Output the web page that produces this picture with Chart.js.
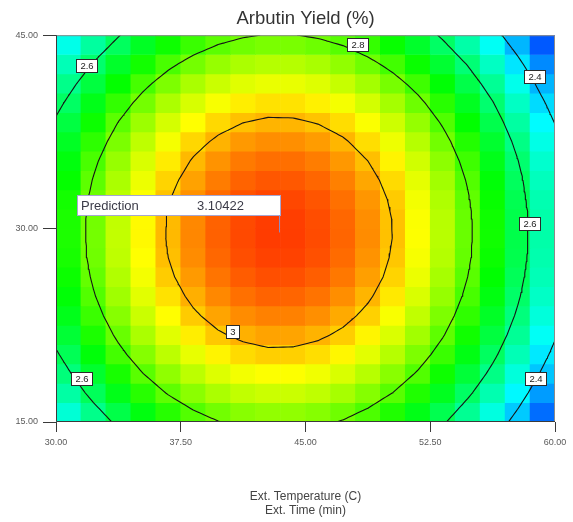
<!DOCTYPE html>
<html><head><meta charset="utf-8">
<script src="https://cdn.jsdelivr.net/npm/chart.js@4.4.1/dist/chart.umd.min.js"></script>
<style>html,body{margin:0;padding:0;background:#fff}#wrap{width:573px;height:522px;position:relative}</style>
</head><body><div id="wrap"><canvas id="c"></canvas></div>
<script>
const chartTitle = 'Arbutin Yield (%)';
const xAxisTitle = ['Ext. Temperature (C)', 'Ext. Time (min)'];
const temperatureCells = [30.75, 32.25, 33.75, 35.25, 36.75, 38.25, 39.75, 41.25, 42.75, 44.25, 45.75, 47.25, 48.75, 50.25, 51.75, 53.25, 54.75, 56.25, 57.75, 59.25];
const timeCells = [44.25, 42.75, 41.25, 39.75, 38.25, 36.75, 35.25, 33.75, 32.25, 30.75, 29.25, 27.75, 26.25, 24.75, 23.25, 21.75, 20.25, 18.75, 17.25, 15.75];
const yieldGrid = [
  [2.473, 2.552, 2.622, 2.682, 2.732, 2.771, 2.801, 2.820, 2.830, 2.829, 2.818, 2.798, 2.767, 2.726, 2.675, 2.614, 2.542, 2.461, 2.370, 2.268],
  [2.526, 2.606, 2.676, 2.736, 2.785, 2.825, 2.855, 2.874, 2.883, 2.883, 2.872, 2.851, 2.820, 2.779, 2.728, 2.667, 2.596, 2.514, 2.423, 2.322],
  [2.574, 2.653, 2.723, 2.783, 2.833, 2.873, 2.902, 2.922, 2.931, 2.930, 2.920, 2.899, 2.868, 2.827, 2.776, 2.715, 2.643, 2.562, 2.471, 2.369],
  [2.615, 2.695, 2.765, 2.825, 2.875, 2.914, 2.944, 2.963, 2.973, 2.972, 2.961, 2.941, 2.910, 2.869, 2.818, 2.756, 2.685, 2.604, 2.512, 2.411],
  [2.651, 2.731, 2.801, 2.861, 2.911, 2.950, 2.980, 2.999, 3.009, 3.008, 2.997, 2.977, 2.946, 2.905, 2.854, 2.792, 2.721, 2.640, 2.548, 2.447],
  [2.682, 2.761, 2.831, 2.891, 2.941, 2.981, 3.010, 3.030, 3.039, 3.038, 3.028, 3.007, 2.976, 2.935, 2.884, 2.823, 2.751, 2.670, 2.579, 2.477],
  [2.706, 2.786, 2.856, 2.916, 2.965, 3.005, 3.035, 3.054, 3.063, 3.063, 3.052, 3.031, 3.000, 2.959, 2.908, 2.847, 2.776, 2.694, 2.603, 2.502],
  [2.724, 2.804, 2.874, 2.934, 2.984, 3.023, 3.053, 3.072, 3.082, 3.081, 3.070, 3.050, 3.019, 2.978, 2.927, 2.866, 2.794, 2.713, 2.622, 2.520],
  [2.737, 2.817, 2.887, 2.947, 2.997, 3.036, 3.066, 3.085, 3.095, 3.094, 3.083, 3.062, 3.032, 2.991, 2.939, 2.878, 2.807, 2.726, 2.634, 2.533],
  [2.744, 2.824, 2.894, 2.954, 3.004, 3.043, 3.073, 3.092, 3.102, 3.101, 3.090, 3.069, 3.039, 2.998, 2.946, 2.885, 2.814, 2.733, 2.641, 2.540],
  [2.745, 2.825, 2.895, 2.955, 3.005, 3.044, 3.074, 3.093, 3.103, 3.102, 3.091, 3.071, 3.040, 2.999, 2.948, 2.886, 2.815, 2.734, 2.642, 2.541],
  [2.741, 2.821, 2.891, 2.950, 3.000, 3.040, 3.069, 3.089, 3.098, 3.098, 3.087, 3.066, 3.035, 2.994, 2.943, 2.882, 2.811, 2.729, 2.638, 2.536],
  [2.730, 2.810, 2.880, 2.940, 2.990, 3.029, 3.059, 3.078, 3.088, 3.087, 3.076, 3.056, 3.025, 2.984, 2.933, 2.871, 2.800, 2.719, 2.627, 2.526],
  [2.714, 2.794, 2.864, 2.924, 2.973, 3.013, 3.043, 3.062, 3.072, 3.071, 3.060, 3.039, 3.008, 2.967, 2.916, 2.855, 2.784, 2.703, 2.611, 2.510],
  [2.692, 2.772, 2.842, 2.902, 2.951, 2.991, 3.021, 3.040, 3.049, 3.049, 3.038, 3.017, 2.986, 2.945, 2.894, 2.833, 2.762, 2.680, 2.589, 2.488],
  [2.664, 2.744, 2.814, 2.874, 2.923, 2.963, 2.993, 3.012, 3.022, 3.021, 3.010, 2.989, 2.958, 2.917, 2.866, 2.805, 2.734, 2.653, 2.561, 2.460],
  [2.630, 2.710, 2.780, 2.840, 2.890, 2.929, 2.959, 2.978, 2.988, 2.987, 2.976, 2.956, 2.925, 2.884, 2.833, 2.771, 2.700, 2.619, 2.527, 2.426],
  [2.591, 2.671, 2.741, 2.800, 2.850, 2.890, 2.919, 2.939, 2.948, 2.948, 2.937, 2.916, 2.885, 2.844, 2.793, 2.732, 2.661, 2.579, 2.488, 2.387],
  [2.546, 2.626, 2.695, 2.755, 2.805, 2.845, 2.874, 2.894, 2.903, 2.902, 2.892, 2.871, 2.840, 2.799, 2.748, 2.687, 2.615, 2.534, 2.443, 2.341],
  [2.495, 2.574, 2.644, 2.704, 2.754, 2.794, 2.823, 2.843, 2.852, 2.851, 2.841, 2.820, 2.789, 2.748, 2.697, 2.636, 2.564, 2.483, 2.392, 2.290]
];
const temperatureTicks = [30, 37.5, 45, 52.5, 60];
const timeTicks = [15, 30, 45];
const contourLevels = [2.4, 2.6, 2.8, 3.0];
const labelTexts = ['2.6', '2.8', '2.4', '2.6', '3', '2.6', '2.4'];
const labelTemps = [31.83, 48.13, 58.74, 58.47, 40.61, 31.56, 58.80];
const labelTimes = [42.64, 44.30, 41.82, 30.43, 22.05, 18.41, 18.41];
const predictionTemp = 43.4;
const predictionTime = 29.7;
const predictionText = '3.10422';
const colorStopValues = [2.17, 2.45, 2.72, 2.95, 3.15];
const colorStopColors = [[0, 0, 255], [0, 255, 255], [0, 255, 0], [255, 255, 0], [255, 0, 0]];

const FONT = '"Liberation Sans", Arial, Helvetica, sans-serif';
Chart.defaults.font.family = FONT;

function colorFor(v) {
  const s = colorStopValues, c = colorStopColors;
  const rgb = a => `rgb(${Math.round(a[0])},${Math.round(a[1])},${Math.round(a[2])})`;
  if (v <= s[0]) return rgb(c[0]);
  if (v >= s[s.length - 1]) return rgb(c[c.length - 1]);
  for (let k = 0; k < s.length - 1; k++) {
    if (v <= s[k + 1]) {
      const t = (v - s[k]) / (s[k + 1] - s[k]);
      return rgb([0, 1, 2].map(q => c[k][q] + t * (c[k + 1][q] - c[k][q])));
    }
  }
}

// ---- contour lines derived from the grid (marching squares) ----
const xMin = temperatureTicks[0], xMax = temperatureTicks[temperatureTicks.length - 1];
const yMin = timeTicks[0], yMax = timeTicks[timeTicks.length - 1];

function buildNodes() {
  const order = timeCells.map((t, r) => r).sort((a, b) => timeCells[a] - timeCells[b]);
  const ysIn = order.map(r => timeCells[r]);
  const inner = order.map(r => yieldGrid[r]);
  const ext = (v0, v1, p0, p1, pe) => v0 + (v0 - v1) * (pe - p0) / (p0 - p1);
  const xsIn = temperatureCells, n = xsIn.length;
  const padRow = row => [ext(row[0], row[1], xsIn[0], xsIn[1], xMin), ...row,
    ext(row[n - 1], row[n - 2], xsIn[n - 1], xsIn[n - 2], xMax)];
  const rows = inner.map(padRow);
  const m = rows.length;
  const bottom = rows[0].map((v, c) => ext(v, rows[1][c], ysIn[0], ysIn[1], yMin));
  const top = rows[m - 1].map((v, c) => ext(v, rows[m - 2][c], ysIn[m - 1], ysIn[m - 2], yMax));
  return { xs: [xMin, ...xsIn, xMax], ys: [yMin, ...ysIn, yMax], F: [bottom, ...rows, top] };
}

function refine(nodes, S) {
  const fx = [], fy = [];
  const sub = arr => { const out = []; for (let k = 0; k < arr.length - 1; k++) for (let s = 0; s < S; s++) out.push([k, s / S]); out.push([arr.length - 2, 1]); return out; };
  const sx = sub(nodes.xs), sy = sub(nodes.ys);
  sx.forEach(([k, t]) => fx.push(nodes.xs[k] + t * (nodes.xs[k + 1] - nodes.xs[k])));
  sy.forEach(([k, t]) => fy.push(nodes.ys[k] + t * (nodes.ys[k + 1] - nodes.ys[k])));
  const F = sy.map(([r, u]) => sx.map(([c, t]) => {
    const a = nodes.F[r][c], b = nodes.F[r][c + 1], d = nodes.F[r + 1][c], e = nodes.F[r + 1][c + 1];
    return (a * (1 - t) + b * t) * (1 - u) + (d * (1 - t) + e * t) * u;
  }));
  return { fx, fy, F };
}

function march(g, level) {
  const segs = [];
  const { fx, fy, F } = g;
  for (let r = 0; r < fy.length - 1; r++) for (let c = 0; c < fx.length - 1; c++) {
    const v00 = F[r][c], v10 = F[r][c + 1], v01 = F[r + 1][c], v11 = F[r + 1][c + 1];
    const pts = [];
    const edge = (xa, ya, va, xb, yb, vb) => {
      if ((va < level) !== (vb < level)) { const t = (level - va) / (vb - va); pts.push({ x: xa + t * (xb - xa), y: ya + t * (yb - ya) }); }
    };
    edge(fx[c], fy[r], v00, fx[c + 1], fy[r], v10);
    edge(fx[c + 1], fy[r], v10, fx[c + 1], fy[r + 1], v11);
    edge(fx[c], fy[r + 1], v01, fx[c + 1], fy[r + 1], v11);
    edge(fx[c], fy[r], v00, fx[c], fy[r + 1], v01);
    if (pts.length === 2) segs.push([pts[0], pts[1]]);
    else if (pts.length === 4) { segs.push([pts[0], pts[1]]); segs.push([pts[2], pts[3]]); }
  }
  return segs;
}

function chain(segs) {
  const key = p => p.x.toFixed(9) + ',' + p.y.toFixed(9);
  const map = new Map();
  segs.forEach((s, i) => s.forEach(p => { const k = key(p); if (!map.has(k)) map.set(k, []); map.get(k).push(i); }));
  const used = new Array(segs.length).fill(false);
  const lines = [];
  for (let i = 0; i < segs.length; i++) {
    if (used[i]) continue;
    used[i] = true;
    const line = [segs[i][0], segs[i][1]];
    for (const atEnd of [true, false]) {
      for (;;) {
        const tip = atEnd ? line[line.length - 1] : line[0];
        const j = (map.get(key(tip)) || []).find(q => !used[q]);
        if (j === undefined) break;
        used[j] = true;
        const s = segs[j];
        const nxt = key(s[0]) === key(tip) ? s[1] : s[0];
        if (atEnd) line.push(nxt); else line.unshift(nxt);
      }
    }
    lines.push(line);
  }
  return lines;
}

const fine = refine(buildNodes(), 5);
const contourDatasets = contourLevels.map(level => {
  const data = [];
  chain(march(fine, level)).forEach(line => { data.push(...line); data.push({ x: null, y: null }); });
  return {
    type: 'line', label: 'Yield ' + level, xAxisID: 'xl', yAxisID: 'y', data,
    borderColor: '#151515', borderWidth: 1.1, pointRadius: 0, spanGaps: false,
    tension: 0, fill: false, order: 0, borderCapStyle: 'round', borderJoinStyle: 'round'
  };
});

const halfCell = Math.abs(timeCells[0] - timeCells[1]) / 2;
const cellDatasets = timeCells.map((t, r) => ({
  type: 'bar', label: 'Time ' + t, xAxisID: 'x', yAxisID: 'y',
  data: temperatureCells.map(() => [t - halfCell, t + halfCell]),
  backgroundColor: yieldGrid[r].map(colorFor),
  borderWidth: 0, grouped: false, barPercentage: 1, categoryPercentage: 1, order: 2
}));

const overlay = {
  id: 'overlay',
  afterDatasetsDraw(chart) {
    const { ctx, chartArea: a } = chart;
    const xs = chart.scales.xl, ys = chart.scales.y;
    ctx.save();
    // frame
    ctx.lineWidth = 1;
    ctx.strokeStyle = '#8a8a8a';
    ctx.beginPath(); ctx.moveTo(a.left, a.top + 0.5); ctx.lineTo(a.right - 0.5, a.top + 0.5); ctx.lineTo(a.right - 0.5, a.bottom); ctx.stroke();
    ctx.strokeStyle = '#3a3a3a';
    ctx.beginPath(); ctx.moveTo(a.left + 0.5, a.top); ctx.lineTo(a.left + 0.5, a.bottom - 0.5); ctx.lineTo(a.right, a.bottom - 0.5); ctx.stroke();
    // contour labels
    ctx.font = '9.5px ' + FONT;
    ctx.textAlign = 'center'; ctx.textBaseline = 'middle';
    labelTexts.forEach((t, k) => {
      const px = xs.getPixelForValue(labelTemps[k]), py = ys.getPixelForValue(labelTimes[k]);
      const w = Math.round(ctx.measureText(t).width + 8), h = 13;
      const x0 = Math.round(px - w / 2) + 0.5, y0 = Math.round(py - h / 2) + 0.5;
      ctx.fillStyle = '#ffffff'; ctx.fillRect(x0, y0, w, h);
      ctx.strokeStyle = '#2a2a2a'; ctx.strokeRect(x0, y0, w, h);
      ctx.fillStyle = '#222'; ctx.fillText(t, x0 + w / 2, y0 + h / 2 + 0.5);
    });
    // prediction flag
    const px = xs.getPixelForValue(predictionTemp), py = ys.getPixelForValue(predictionTime);
    const bw = 203, bh = 20;
    const bx = Math.round(px - bw + 1) + 0.5, by = Math.round(py - 37) + 0.5;
    ctx.fillStyle = '#ffffff'; ctx.fillRect(bx, by, bw, bh);
    ctx.strokeStyle = '#a6a6d2'; ctx.strokeRect(bx, by, bw, bh);
    ctx.strokeStyle = '#8b8bc4';
    ctx.beginPath(); ctx.moveTo(Math.round(px) + 0.5, by + bh); ctx.lineTo(Math.round(px) + 0.5, py); ctx.stroke();
    ctx.fillStyle = '#3b3b48'; ctx.font = '13px ' + FONT; ctx.textAlign = 'left';
    ctx.fillText('Prediction', bx + 3.5, by + bh / 2 + 0.5);
    ctx.fillText(predictionText, bx + 119.5, by + bh / 2 + 0.5);
    ctx.restore();
  }
};

new Chart(document.getElementById('c'), {
  type: 'bar',
  data: { labels: temperatureCells.map(v => v.toFixed(2)), datasets: [...cellDatasets, ...contourDatasets] },
  options: {
    responsive: true, maintainAspectRatio: false, animation: false, events: [],
    layout: { padding: { left: 0, right: 18, top: 0, bottom: 0 } },
    plugins: {
      legend: { display: false }, tooltip: { enabled: false },
      title: { display: true, text: chartTitle, fullSize: false, color: '#333',
        font: { size: 18.5, weight: 'normal', family: FONT }, padding: { top: 8, bottom: 5 } }
    },
    scales: {
      x: { type: 'category', display: false, offset: true },
      xl: {
        type: 'linear', position: 'bottom', min: xMin, max: xMax, offset: false,
        afterBuildTicks: s => { s.ticks = temperatureTicks.map(v => ({ value: v })); },
        afterFit: s => { s.height = 100; },
        grid: { offset: false, drawOnChartArea: false, drawTicks: true, tickLength: 10, color: '#3a3a3a' },
        border: { display: false },
        ticks: { font: { size: 9 }, color: '#5a5a5a', padding: 5, maxRotation: 0, autoSkip: false,
          callback: v => Number(v).toFixed(2) },
        title: { display: true, text: xAxisTitle, color: '#444', font: { size: 12 }, padding: { top: 0, bottom: 4 } }
      },
      y: {
        type: 'linear', min: yMin, max: yMax, offset: false,
        afterBuildTicks: s => { s.ticks = timeTicks.map(v => ({ value: v })); },
        afterFit: s => { s.width = 56; },
        grid: { offset: false, drawOnChartArea: false, drawTicks: true, tickLength: 13, color: '#3a3a3a' },
        border: { display: false },
        ticks: { font: { size: 9 }, color: '#5a5a5a', padding: 5, callback: v => Number(v).toFixed(2) }
      }
    }
  },
  plugins: [overlay]
});
</script>
</body></html>
